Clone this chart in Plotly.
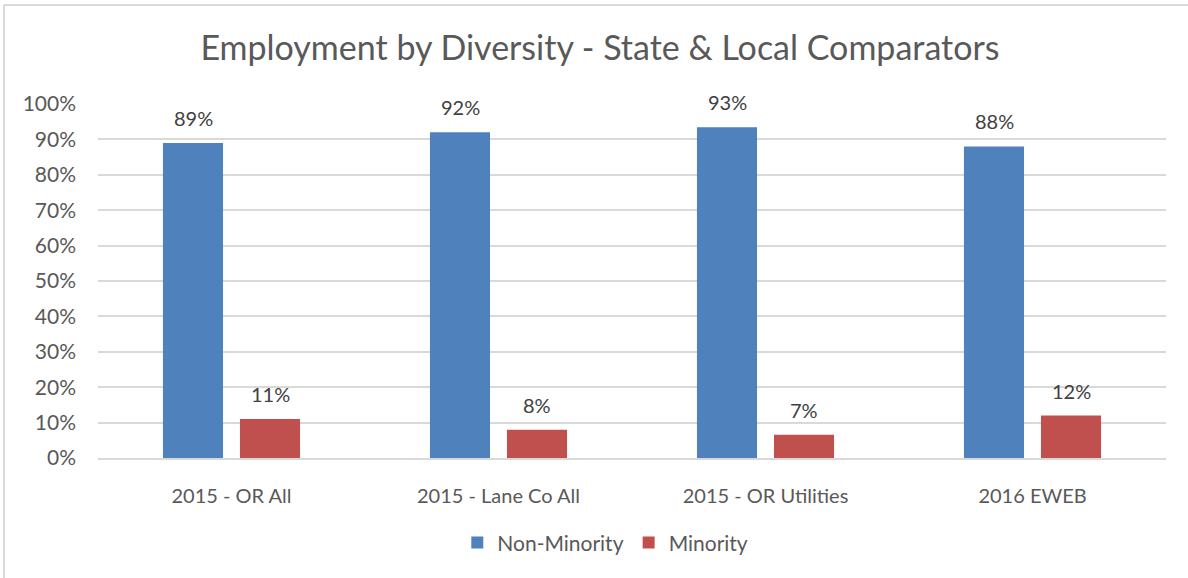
import plotly.graph_objects as go

categories = ["2015 - OR All", "2015 - Lane Co All", "2015 - OR Utilities", "2016 EWEB"]
non_minority = [0.89, 0.92, 0.934, 0.88]
minority = [0.11, 0.08, 0.066, 0.12]
series_names = ["Non-Minority", "Minority"]
colors = ["#4F81BD", "#C0504D"]
y_ticks = [i / 10 for i in range(11)]

FONT = "Lato"
TXT = "#595959"

fig = go.Figure()
for name, vals, col in zip(series_names, [non_minority, minority], colors):
    fig.add_trace(go.Bar(
        name=name, x=categories, y=vals,
        marker=dict(color=col, line=dict(width=0)),
        hoverinfo="skip",
    ))

# data labels as annotations above each bar
shift = 38.5
for vals, xs in zip([non_minority, minority], [-shift, shift]):
    for c, v in zip(categories, vals):
        fig.add_annotation(
            x=c, y=v, xref="x", yref="y", text=f"{round(v*100):.0f}%",
            showarrow=False, yanchor="bottom", yshift=11, xshift=xs,
            font=dict(family=FONT, size=20, color="#404040"),
        )

fig.update_layout(
    width=1188, height=578,
    margin=dict(l=98, r=22, t=104, b=120),
    paper_bgcolor="white", plot_bgcolor="white",
    barmode="group", bargap=0.423, bargroupgap=0.22,
    title=dict(text="Employment by Diversity - State & Local Comparators",
               x=0.505, xanchor="center", y=1 - 48 / 578, yanchor="middle",
               xref="container", yref="container",
               font=dict(family=FONT, size=34, color=TXT)),
    font=dict(family=FONT, color=TXT, size=20),
    legend=dict(orientation="h", x=0.475, xanchor="center", y=-0.24, yanchor="middle",
                font=dict(family=FONT, size=21, color=TXT), traceorder="normal",
                itemwidth=30),
    showlegend=True,
    xaxis=dict(showline=True, linecolor="#D9D9D9", linewidth=2, ticks="",
               tickfont=dict(family=FONT, size=20, color=TXT), ticklabelstandoff=19,
               fixedrange=True),
    yaxis=dict(range=[0, 1], tickvals=y_ticks, tickformat=".0%",
               showgrid=True, gridcolor="#D9D9D9", gridwidth=2, zeroline=False,
               tickfont=dict(family=FONT, size=21, color=TXT), ticklabelstandoff=21,
               fixedrange=True),
    shapes=[
        dict(type="line", xref="paper", yref="paper",
             x0=-94 / 1068, x1=1.1, y0=1 + 99 / 354, y1=1 + 99 / 354,
             line=dict(color="#D9D9D9", width=2)),
        dict(type="line", xref="paper", yref="paper",
             x0=-94 / 1068, x1=-94 / 1068, y0=1 + 99 / 354, y1=-0.5,
             line=dict(color="#D9D9D9", width=2)),
    ],
)

fig.write_html("out.html")
